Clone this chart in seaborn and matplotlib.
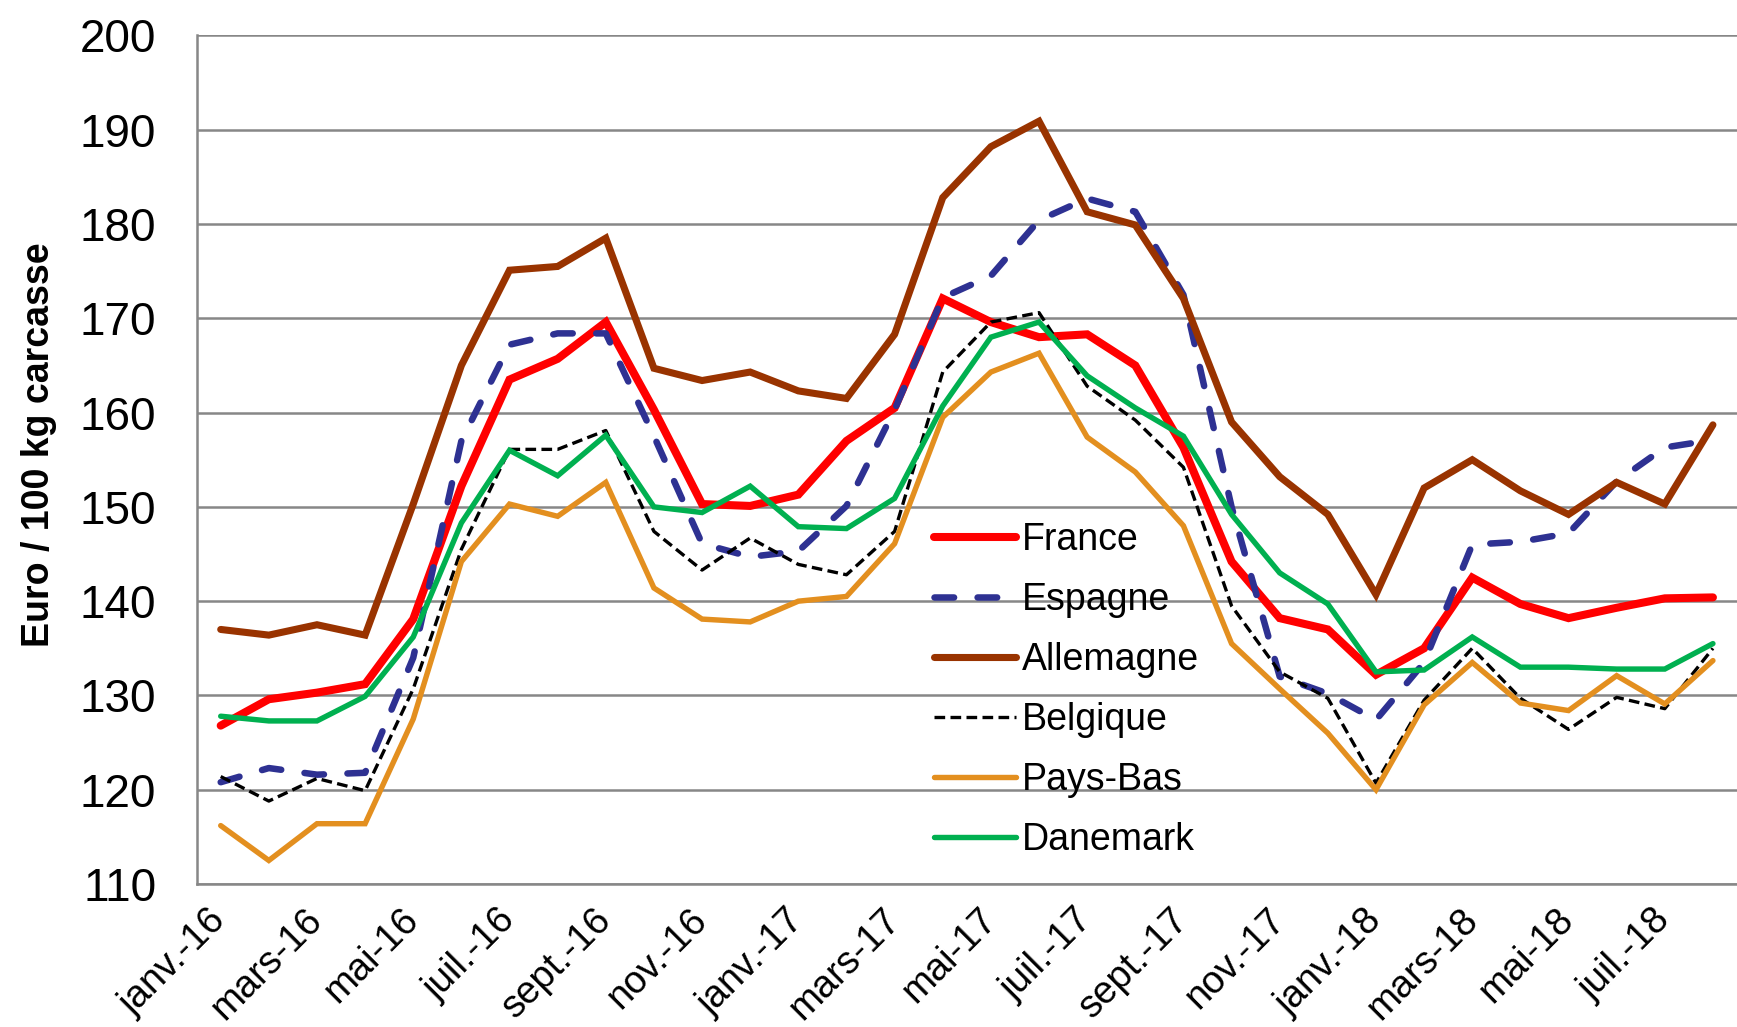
import numpy as np
import pandas as pd
import matplotlib
matplotlib.use("Agg")
import matplotlib.pyplot as plt
import seaborn as sns

# mois (janv. 2016 -> août 2018)
mois = ["janv.-16", "févr.-16", "mars-16", "avr.-16", "mai-16", "juin-16",
        "juil.-16", "août-16", "sept.-16", "oct.-16", "nov.-16", "déc.-16",
        "janv.-17", "févr.-17", "mars-17", "avr.-17", "mai-17", "juin-17",
        "juil.-17", "août-17", "sept.-17", "oct.-17", "nov.-17", "déc.-17",
        "janv.-18", "févr.-18", "mars-18", "avr.-18", "mai-18", "juin-18",
        "juil.-18", "août-18"]

# prix (euro / 100 kg carcasse)
france = [126.8, 129.6, 130.3, 131.2, 138.1, 152.2, 163.5, 165.7, 169.6, 160.3,
          150.3, 150.1, 151.3, 157.0, 160.5, 172.1, 169.6, 168.0, 168.3, 165.0,
          156.3, 144.2, 138.2, 137.0, 132.2, 135.0, 142.5, 139.7, 138.2, 139.3,
          140.3, 140.4]
espagne = [120.8, 122.3, 121.6, 121.8, 134.0, 157.0, 167.2, 168.4, 168.4, 157.5,
           146.1, 144.7, 145.3, 150.1, 160.3, 172.2, 174.5, 180.4, 182.7, 181.3,
           172.5, 150.0, 132.0, 130.2, 127.4, 133.5, 146.0, 146.3, 147.2, 152.7,
           156.3, 157.1]
allemagne = [137.0, 136.4, 137.5, 136.4, 150.3, 165.0, 175.1, 175.5, 178.5, 164.7,
             163.4, 164.3, 162.3, 161.5, 168.3, 182.8, 188.2, 190.9, 181.3, 179.9,
             172.1, 159.0, 153.2, 149.2, 140.7, 152.0, 155.0, 151.7, 149.2, 152.6,
             150.3, 158.7]
belgique = [121.4, 118.8, 121.2, 119.9, 130.7, 145.5, 156.1, 156.1, 158.1, 147.4,
            143.3, 146.7, 143.9, 142.8, 147.4, 164.3, 169.6, 170.6, 162.8, 159.2,
            154.2, 139.5, 132.5, 129.7, 120.7, 129.5, 135.0, 129.7, 126.4, 129.8,
            128.6, 135.0]
pays_bas = [116.2, 112.5, 116.4, 116.4, 127.5, 144.2, 150.3, 149.0, 152.6, 141.4,
            138.1, 137.8, 140.0, 140.5, 146.1, 159.5, 164.3, 166.3, 157.4, 153.7,
            148.0, 135.5, 130.7, 126.0, 120.0, 129.0, 133.5, 129.2, 128.4, 132.1,
            129.1, 133.7]
danemark = [127.8, 127.3, 127.3, 129.9, 136.2, 148.3, 156.0, 153.3, 157.6, 150.0,
            149.4, 152.2, 147.9, 147.7, 150.9, 160.7, 168.0, 169.6, 163.9, 160.5,
            157.5, 149.2, 143.0, 139.7, 132.5, 132.7, 136.2, 133.0, 133.0, 132.8,
            132.8, 135.5]

pays = ["France", "Espagne", "Allemagne", "Belgique", "Pays-Bas", "Danemark"]
series = [france, espagne, allemagne, belgique, pays_bas, danemark]

# style des courbes
couleurs = ["#FF0000", "#2E3192", "#993300", "#000000", "#E38F1F", "#00B050"]
epaisseurs = [5.8, 4.7, 5.1, 2.4, 3.9, 3.9]
tirets = [None, (3.0, 3.6), None, (3.2, 1.6), None, None]

sns.set_style("white")
plt.rcParams["font.family"] = ["Liberation Sans", "DejaVu Sans"]
plt.rcParams["text.color"] = "black"
plt.rcParams["xtick.labelcolor"] = "black"
plt.rcParams["ytick.labelcolor"] = "black"

fig = plt.figure(figsize=(17.37, 10.27), dpi=100)
ax = fig.add_axes([0.1132, 0.1392, 0.8868, 0.8263])

idx = np.arange(len(mois))
for nom, vals, c, lw, d in zip(pays, series, couleurs, epaisseurs, tirets):
    sns.lineplot(x=idx, y=vals, ax=ax, color=c, linewidth=lw, label=nom)
    ligne = ax.get_lines()[-1]
    if d is not None:
        ligne.set_dashes(d)
        ligne.set_dash_capstyle("round" if nom == "Espagne" else "butt")
    ligne.set_solid_capstyle("round")
    ligne.set_solid_joinstyle("miter")

gris = "#878787"
ax.set_ylim(110, 200)
ax.set_yticks(np.arange(110, 201, 10))
ax.set_xlim(-0.5, 31.15)

# graduations aux limites des mois, étiquettes au centre
ax.set_xticks(np.arange(-0.5, 31.6, 2))
ax.set_xticklabels([])
ax.set_xticks(idx[::2], minor=True)
ax.set_xticklabels(mois[::2], minor=True, rotation=45, ha="right",
                   va="center", rotation_mode="anchor", fontsize=27.5)
ax.tick_params(axis="x", which="minor", length=0, pad=22, labelcolor="black")
ax.tick_params(axis="x", which="major", length=8, width=1.6, color=gris,
               direction="out")
ax.tick_params(axis="y", which="major", length=11, width=1.6, color=gris,
               direction="out", labelsize=33, pad=18, labelcolor="black")

ax.grid(axis="y", color=gris, linewidth=1.8)
ax.grid(axis="x", visible=False)
ax.set_axisbelow(True)
for s in ["top", "right"]:
    ax.spines[s].set_visible(False)
for s in ["left", "bottom"]:
    ax.spines[s].set_color(gris)
    ax.spines[s].set_linewidth(1.8)

ax.set_ylabel("Euro / 100 kg carcasse", fontsize=27, fontweight="bold",
              va="center", color="black")
ax.yaxis.set_label_coords(-0.1025, 0.5176)

leg = ax.legend(loc="center left", bbox_to_anchor=(0.5377, 0.3285),
                bbox_transform=fig.transFigure, frameon=False, fontsize=27,
                handlelength=2.2, handletextpad=0.15, labelspacing=0.64,
                borderpad=0, borderaxespad=0)
for t in leg.get_texts():
    t.set_color("black")

fig.savefig("out.png", dpi=100)
